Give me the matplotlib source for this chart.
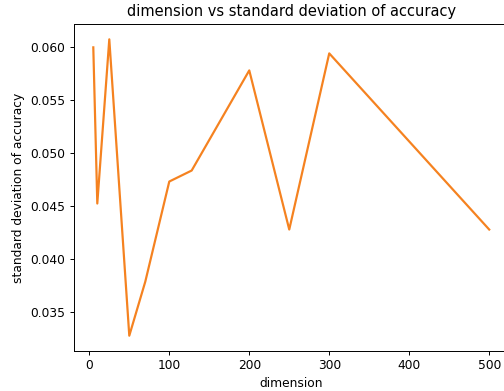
import numpy as np
import matplotlib
matplotlib.use("Agg")
import matplotlib.pyplot as plt

# dimensions tried and std of accuracy for each
dims = [5, 10, 25, 50, 70, 100, 128, 200, 250, 300, 500]
std_acc = [0.0600, 0.04523, 0.06076, 0.03273, 0.03784, 0.04731,
           0.04835, 0.05782, 0.04277, 0.05943, 0.04277]

W, H = 504, 391
fig = plt.figure(figsize=(W/88, H/88), dpi=88)
ax = fig.add_axes([73.5/W, (H-350.5)/H, 435.5/W, 326/H])
ax.plot(dims, std_acc, color='#f58220', linewidth=1.8)
ax.set_title("dimension vs standard deviation of accuracy", pad=7)
ax.set_xlabel("dimension")
ax.set_ylabel("standard deviation of accuracy")
fig.savefig("out.png", dpi=88)
